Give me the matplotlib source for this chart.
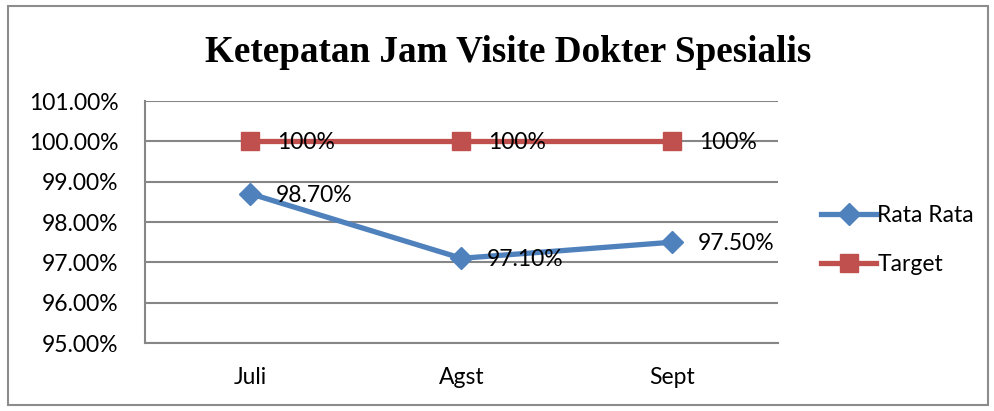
import matplotlib
matplotlib.use("Agg")
import matplotlib.pyplot as plt
from matplotlib.patches import Rectangle
from matplotlib.ticker import FuncFormatter

months = ["Juli", "Agst", "Sept"]
rata_rata = [98.7, 97.1, 97.5]
target = [100, 100, 100]
rata_labels = ["98.70%", "97.10%", "97.50%"]
target_labels = ["100%", "100%", "100%"]

BLUE = "#4F81BD"
RED = "#C0504D"
GRID = "#868686"
FS = 16.5

plt.rcParams["font.family"] = ["Lato", "DejaVu Sans"]

fig = plt.figure(figsize=(9.95, 4.11), dpi=100)
fig.patches.append(Rectangle((8 / 995, 6 / 411), 980 / 995, 399 / 411,
                             transform=fig.transFigure, fill=False,
                             edgecolor="#8c8c8c", linewidth=1.5))

ax = fig.add_axes([145 / 995, 68 / 411, 633 / 995, 242 / 411])
x = range(len(months))

ax.plot(x, target, color=RED, linewidth=3.8, marker="s", markersize=13,
        label="Target", zorder=3)
ax.plot(x, rata_rata, color=BLUE, linewidth=3.8, marker="D", markersize=11,
        label="Rata Rata", zorder=4)

for xi, v, t in zip(x, target, target_labels):
    ax.annotate(t, (xi, v), xytext=(19, -1), textcoords="offset points",
                ha="left", va="center", fontsize=FS, zorder=5)
for xi, v, t in zip(x, rata_rata, rata_labels):
    ax.annotate(t, (xi, v), xytext=(18, -1), textcoords="offset points",
                ha="left", va="center", fontsize=FS, zorder=5)

ax.set_xlim(-0.5, 2.5)
ax.set_ylim(95, 101)
ax.set_yticks([95, 96, 97, 98, 99, 100, 101])
ax.yaxis.set_major_formatter(FuncFormatter(lambda v, p: f"{v:.2f}%"))
ax.set_xticks(list(x))
ax.set_xticklabels(months)
ax.tick_params(axis="y", length=0, pad=19, labelsize=FS)
ax.tick_params(axis="x", length=0, pad=17, labelsize=FS)

ax.grid(axis="y", color=GRID, linewidth=1.5)
ax.set_axisbelow(True)
for side in ["top", "right"]:
    ax.spines[side].set_visible(False)
for side in ["left", "bottom"]:
    ax.spines[side].set_color(GRID)
    ax.spines[side].set_linewidth(1.5)

handles, labels = ax.get_legend_handles_labels()
fig.legend(handles[::-1], labels[::-1], loc="center left",
           bbox_to_anchor=(805 / 995, 171 / 411), frameon=False,
           fontsize=FS, handlelength=2.4, handletextpad=0.05, labelspacing=1.2,
           borderpad=0.2)

fig.text(508 / 995, 358 / 411, "Ketepatan Jam Visite Dokter Spesialis",
         ha="center", va="center", fontsize=26.7, fontweight="bold",
         family="Liberation Serif")

fig.savefig("out.png", dpi=100)
